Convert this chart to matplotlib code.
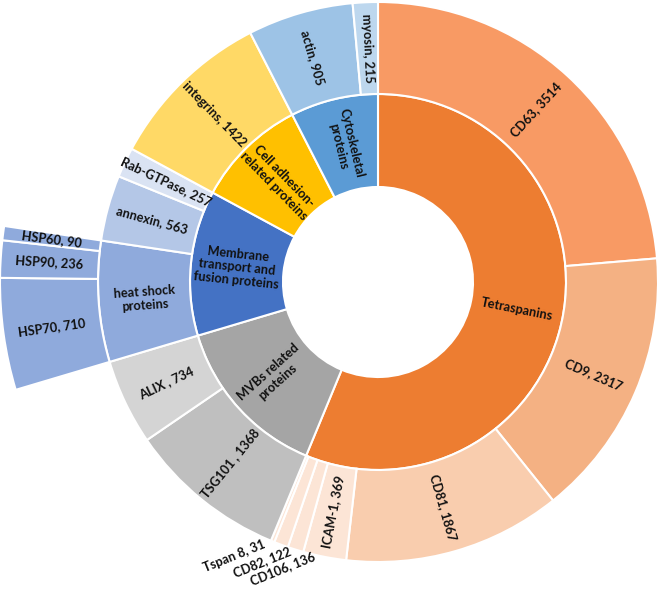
import numpy as np
import matplotlib
matplotlib.use("Agg")
import matplotlib.pyplot as plt

# inner ring: categories
groups = ["Tetraspanins", "MVBs related\nproteins", "Membrane\ntransport and\nfusion proteins",
          "Cell adhesion-\nrelated proteins", "Cytoskeletal\nproteins"]
group_colors = ["#ED7D31", "#A5A5A5", "#4472C4", "#FFC000", "#5B9BD5"]

# middle ring: members of each category
tetra_names = ["CD63", "CD9", "CD81", "ICAM-1", "CD106", "CD82", "Tspan 8"]
tetra_vals = [3514, 2317, 1867, 369, 136, 122, 31]
mvb_names = ["TSG101 ", "ALIX "]
mvb_vals = [1368, 734]
hsp_names = ["HSP70", "HSP90", "HSP60"]
hsp_vals = [710, 236, 90]
membr_names = ["heat shock\nproteins", "annexin", "Rab-GTPase"]
membr_vals = [sum(hsp_vals), 563, 257]
adh_names = ["integrins"]
adh_vals = [1422]
cyto_names = ["actin", "myosin"]
cyto_vals = [905, 215]

tetra_colors = ["#F89A64", "#F4B183", "#F9CDAE", "#FCE5D6", "#FCE5D6", "#FCE5D6", "#FCE5D6"]
mvb_colors = ["#BFBFBF", "#D4D4D4"]
membr_colors = ["#8FAADC", "#B4C7E7", "#DAE3F3"]
adh_colors = ["#FFD966"]
cyto_colors = ["#9DC3E6", "#BDD7EE"]
hsp_color = "#8FAADC"

# labels that sit outside the ring (image pixel coords)
outside = {"Tspan 8": (234, 556), "CD82": (262, 562), "CD106": (283, 569)}

W, H = 661, 590
cx, cy = 378, H - 282
fig = plt.figure(figsize=(W / 100, H / 100), dpi=100)
ax = fig.add_axes([0, 0, 1, 1])
font = dict(family=["Lato", "DejaVu Sans"], weight="bold", fontsize=9.2, color="#111111")

def ring(vals, colors, radius, width):
    wedges, _ = ax.pie(vals, colors=colors, radius=radius, center=(cx, cy), startangle=90,
                       counterclock=False,
                       wedgeprops=dict(width=width, edgecolor="white", linewidth=1.5))
    return wedges

def put_label(w, text, rmid):
    th = (w.theta1 + w.theta2) / 2
    x = cx + rmid * np.cos(np.radians(th))
    y = cy + rmid * np.sin(np.radians(th))
    rot = th % 360
    if 90 < rot < 270:
        rot -= 180
    ax.text(x, y, text, rotation=rot, rotation_mode="anchor", ha="center", va="center",
            multialignment="center", linespacing=1.15, **font)

group_vals = [sum(tetra_vals), sum(mvb_vals), sum(membr_vals), sum(adh_vals), sum(cyto_vals)]
w1 = ring(group_vals, group_colors, 188, 93)
for w, name in zip(w1, groups):
    put_label(w, name, 188 - 93 / 2)

names2 = tetra_names + mvb_names + membr_names + adh_names + cyto_names
vals2 = tetra_vals + mvb_vals + membr_vals + adh_vals + cyto_vals
cols2 = tetra_colors + mvb_colors + membr_colors + adh_colors + cyto_colors
w2 = ring(vals2, cols2, 280, 92)
for w, name, v in zip(w2, names2, vals2):
    if name.startswith("heat"):
        put_label(w, name, 280 - 92 / 2)
    elif name in outside:
        px, py = outside[name]
        ax.text(px, H - py, f"{name}, {v}", rotation=22, rotation_mode="anchor",
                ha="center", va="center", **font)
    else:
        put_label(w, f"{name}, {v}", 280 - 92 / 2)

# outer ring only for heat shock proteins
before = sum(tetra_vals) + sum(mvb_vals)
after = sum(group_vals) - before - sum(hsp_vals)
w3 = ring([before] + hsp_vals + [after], ["none"] + [hsp_color] * 3 + ["none"], 378, 98)
w3[0].set_visible(False)
w3[-1].set_visible(False)
for w, name, v in zip(w3[1:-1], hsp_names, hsp_vals):
    put_label(w, f"{name}, {v}", 378 - 98 / 2)

ax.set_xlim(0, W)
ax.set_ylim(0, H)
ax.set_aspect("equal")
ax.axis("off")
fig.savefig("out.png", dpi=100, facecolor="white")
